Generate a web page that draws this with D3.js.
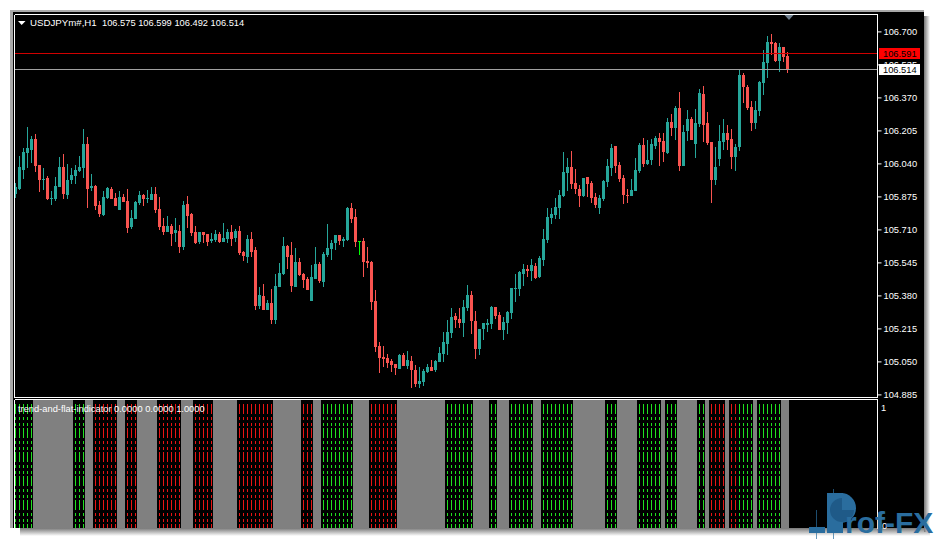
<!DOCTYPE html>
<html>
<head>
<meta charset="utf-8">
<script src="https://cdn.jsdelivr.net/npm/d3@7/dist/d3.min.js"></script>
<style>
html, body { margin: 0; padding: 0; background: #fff; overflow: hidden; }
text { font-family: "Liberation Sans", sans-serif; font-size: 9.3px; fill: #fff; }
</style>
</head>
<body>
<svg id="chart" width="936" height="539"></svg>
<script>
const opens = [105.887,105.912,106.007,106.092,106.107,106.162,106.032,105.957,105.967,105.862,
105.862,105.922,106.022,105.882,105.957,105.977,106.002,106.017,106.137,105.917,
105.927,105.832,105.782,105.867,105.912,105.867,105.807,105.872,105.852,105.722,
105.762,105.842,105.882,105.862,105.857,105.887,105.812,105.727,105.697,105.727,
105.692,105.702,105.622,105.837,105.787,105.697,105.647,105.697,105.687,105.652,
105.657,105.687,105.647,105.662,105.697,105.667,105.702,105.597,105.572,105.662,
105.607,105.327,105.377,105.307,105.342,105.257,105.422,105.487,105.627,105.582,
105.422,105.547,105.487,105.462,105.352,105.462,105.537,105.447,105.582,105.612,
105.642,105.682,105.652,105.657,105.817,105.772,105.652,105.652,105.552,105.547,
105.352,105.127,105.072,105.067,105.052,105.037,105.012,105.082,105.027,105.052,
105.007,104.937,104.947,104.997,105.022,105.007,105.047,105.087,105.137,105.192,
105.277,105.262,105.242,105.317,105.382,105.252,105.112,105.212,105.232,105.237,
105.322,105.282,105.207,105.242,105.292,105.412,105.412,105.487,105.512,105.502,
105.527,105.472,105.557,105.657,105.767,105.782,105.817,105.877,105.992,106.022,
105.942,105.912,105.877,105.972,105.942,105.872,105.817,105.862,105.947,106.017,
106.127,106.032,105.967,105.882,105.877,105.902,106.002,106.132,106.037,106.057,
106.127,106.167,106.152,106.092,106.247,106.217,106.317,106.027,106.202,106.262,
106.137,106.237,106.387,106.242,106.147,105.957,106.062,106.147,106.192,106.162,
106.072,106.122,106.482,106.422,106.322,106.242,106.302,106.442,106.542,106.647,
106.642,106.552,106.622,106.575];

const highs = [105.942,106.077,106.117,106.222,106.177,106.187,106.032,106.017,105.977,105.902,
105.972,106.072,106.087,106.037,106.017,106.032,106.077,106.212,106.172,105.987,
105.932,105.852,105.902,105.922,105.922,105.892,105.902,105.887,105.912,105.807,
105.852,105.902,105.887,105.907,105.922,105.922,105.872,105.767,105.777,105.737,
105.767,105.732,105.852,105.877,105.792,105.727,105.697,105.697,105.687,105.692,
105.707,105.697,105.742,105.712,105.732,105.712,105.727,105.602,105.682,105.697,
105.622,105.422,105.437,105.357,105.412,105.487,105.542,105.672,105.632,105.647,
105.617,105.567,105.492,105.472,105.532,105.622,105.547,105.597,105.737,105.657,
105.682,105.682,105.672,105.822,105.842,105.812,105.652,105.667,105.622,105.552,
105.407,105.147,105.127,105.087,105.062,105.037,105.087,105.092,105.102,105.077,
105.032,105.022,105.012,105.037,105.057,105.057,105.122,105.197,105.257,105.317,
105.292,105.317,105.357,105.432,105.402,105.302,105.212,105.242,105.262,105.327,
105.322,105.297,105.272,105.302,105.417,105.487,105.502,105.537,105.532,105.562,
105.542,105.577,105.712,105.817,105.817,105.867,105.907,106.097,106.067,106.102,
106.012,105.932,105.967,105.972,105.952,105.892,105.882,105.957,106.062,106.137,
106.127,106.047,105.982,105.912,105.962,106.067,106.142,106.167,106.157,106.162,
106.177,106.192,106.192,106.267,106.287,106.327,106.397,106.232,106.307,106.272,
106.312,106.412,106.427,106.297,106.147,106.122,106.232,106.262,106.232,106.212,
106.137,106.507,106.492,106.432,106.352,106.352,106.452,106.607,106.677,106.687,
106.647,106.642,106.622,106.599];

const lows = [105.867,105.907,105.962,106.017,106.042,105.997,105.897,105.907,105.857,105.832,
105.852,105.922,105.862,105.862,105.937,105.937,105.997,105.967,105.817,105.902,
105.807,105.772,105.777,105.862,105.862,105.827,105.807,105.847,105.692,105.712,
105.762,105.832,105.827,105.842,105.857,105.792,105.707,105.682,105.697,105.627,
105.647,105.592,105.607,105.717,105.677,105.637,105.637,105.642,105.627,105.642,
105.647,105.642,105.647,105.642,105.627,105.647,105.582,105.552,105.542,105.572,
105.307,105.312,105.307,105.307,105.237,105.237,105.422,105.482,105.512,105.397,
105.422,105.477,105.417,105.407,105.352,105.462,105.442,105.422,105.572,105.557,
105.607,105.632,105.622,105.652,105.742,105.622,105.582,105.472,105.517,105.307,
105.097,104.992,105.022,105.017,104.997,104.982,105.012,105.027,105.012,104.917,
104.922,104.917,104.927,104.992,105.002,104.997,105.047,105.047,105.082,105.167,
105.217,105.217,105.172,105.302,105.187,105.062,105.082,105.157,105.197,105.212,
105.262,105.207,105.157,105.187,105.262,105.347,105.377,105.427,105.472,105.452,
105.462,105.467,105.527,105.642,105.737,105.762,105.762,105.872,105.902,105.912,
105.887,105.822,105.872,105.872,105.842,105.817,105.787,105.852,105.922,105.977,
105.992,105.947,105.837,105.842,105.877,105.902,105.992,106.022,106.032,106.032,
106.112,106.027,106.047,106.087,106.177,106.157,106.002,106.027,106.152,106.157,
106.067,106.222,106.147,106.132,105.842,105.932,106.027,106.107,106.107,106.012,
106.002,106.102,106.342,106.307,106.202,106.212,106.277,106.382,106.467,106.582,
106.547,106.497,106.547,106.492];

const closes = [105.922,106.022,106.097,106.117,106.162,106.027,105.957,105.962,105.862,105.867,
105.927,106.022,105.887,105.957,105.982,106.007,106.022,106.137,105.912,105.927,
105.827,105.787,105.872,105.917,105.862,105.827,105.872,105.847,105.717,105.767,
105.847,105.882,105.862,105.867,105.887,105.807,105.722,105.697,105.727,105.687,
105.707,105.622,105.832,105.777,105.692,105.642,105.697,105.682,105.647,105.662,
105.687,105.647,105.667,105.697,105.662,105.702,105.592,105.577,105.662,105.597,
105.327,105.382,105.307,105.342,105.257,105.427,105.492,105.627,105.572,105.427,
105.547,105.482,105.457,105.407,105.472,105.537,105.452,105.587,105.617,105.642,
105.682,105.652,105.662,105.817,105.762,105.647,105.652,105.547,105.542,105.347,
105.122,105.067,105.062,105.042,105.032,105.017,105.082,105.027,105.057,105.007,
104.937,104.952,105.002,105.022,105.002,105.052,105.092,105.147,105.197,105.272,
105.257,105.242,105.322,105.382,105.252,105.112,105.212,105.242,105.242,105.322,
105.277,105.207,105.247,105.297,105.417,105.417,105.497,105.512,105.502,105.532,
105.467,105.567,105.662,105.772,105.787,105.822,105.882,105.997,106.022,105.937,
105.912,105.877,105.967,105.937,105.867,105.832,105.867,105.952,106.027,106.117,
106.027,105.962,105.882,105.877,105.907,106.007,106.132,106.037,106.057,106.137,
106.167,106.147,106.097,106.247,106.217,106.317,106.027,106.197,106.262,106.157,
106.242,106.392,106.232,106.142,105.957,106.022,106.152,106.192,106.157,106.072,
106.122,106.482,106.422,106.317,106.242,106.307,106.447,106.547,106.647,106.637,
106.552,106.622,106.572,106.514];

const priceTicks = [106.700,106.535,106.370,106.205,106.040,105.875,105.710,105.545,105.380,105.215,105.050,104.885];
const bidPrice = 106.514;
const askPrice = 106.591;

// indicator state per run of bars: 1 up, -1 down, 0 flat
const trendStates = [1,0,1,0,-1,0,-1,0,-1,0,-1,0,-1,0,-1,0,1,0,-1,0,1,0,1,0,1,0,1,0,1,0,1,0,1,0,1,0,-1,0,-1,1,0,1,0];
const trendLengths = [5,10,3,2,6,2,3,5,6,3,5,6,9,7,3,2,8,4,7,12,7,4,2,3,6,2,8,8,3,5,6,1,3,5,2,1,4,1,2,4,1,6,2];

const main = { left: 14, right: 877, top: 14, bottom: 397 };
const sub = { top: 399, bottom: 528 };

const upColor = "#26a69a";
const downColor = "#f95450";
const logoColor = "#2a6d9e";

const svg = d3.select("#chart");

const defs = svg.append("defs");
const shadowB = defs.append("linearGradient").attr("id", "shadowB").attr("x1", 0).attr("x2", 0).attr("y1", 0).attr("y2", 1);
shadowB.append("stop").attr("offset", 0).attr("stop-color", "#777");
shadowB.append("stop").attr("offset", 1).attr("stop-color", "#fff");
const shadowR = defs.append("linearGradient").attr("id", "shadowR");
shadowR.append("stop").attr("offset", 0).attr("stop-color", "#777");
shadowR.append("stop").attr("offset", 1).attr("stop-color", "#fff");

// window frame and drop shadow
svg.append("rect").attr("x", 20).attr("y", 528).attr("width", 910).attr("height", 8).attr("fill", "url(#shadowB)");
svg.append("rect").attr("x", 924).attr("y", 16).attr("width", 6).attr("height", 516).attr("fill", "url(#shadowR)");
svg.append("rect").attr("x", 10).attr("y", 10).attr("width", 914).attr("height", 518).attr("fill", "#a8a8a8");
svg.append("rect").attr("x", 13).attr("y", 12).attr("width", 911).attr("height", 516).attr("fill", "#000");

const data = opens.map((o, i) => ({ i, open: o, high: highs[i], low: lows[i], close: closes[i] }));

const x = d3.scaleLinear().domain([0, 193]).range([15.5, 787.5]);
const y = d3.scaleLinear().domain([106.857, 104.857]).range([0, 400]);
const ySub = d3.scaleLinear().domain([0, 1]).range([sub.bottom, sub.top + 1]);

// indicator panel
const states = [];
trendStates.forEach((s, k) => { for (let n = 0; n < trendLengths[k]; n++) states.push(s); });
const stateRows = states.map((s, i) => ({ s, i }));

const gSub = svg.append("g");
gSub.selectAll("rect").data(stateRows.filter(d => d.s === 0)).enter().append("rect")
    .attr("x", d => x(d.i) - 2.5)
    .attr("y", ySub(1))
    .attr("width", 4)
    .attr("height", ySub(0) - ySub(1))
    .attr("fill", "#808080")
    .attr("shape-rendering", "crispEdges");
gSub.selectAll("line").data(stateRows.filter(d => d.s !== 0)).enter().append("line")
    .attr("x1", d => x(d.i))
    .attr("x2", d => x(d.i))
    .attr("y1", ySub(1) + 4)
    .attr("y2", ySub(0))
    .attr("stroke", d => d.s > 0 ? "#1fe01f" : "#e81414")
    .attr("stroke-dasharray", "10,3,3,3,3,2")
    .attr("shape-rendering", "crispEdges");

// candles
const candles = svg.append("g").selectAll("g").data(data).enter().append("g");
candles.append("line")
    .attr("x1", d => x(d.i))
    .attr("x2", d => x(d.i))
    .attr("y1", d => y(d.high))
    .attr("y2", d => y(d.low))
    .attr("stroke", d => d.close > d.open ? upColor : d.close < d.open ? downColor : "#00ff00")
    .attr("shape-rendering", "crispEdges");
candles.filter(d => d.close !== d.open).append("rect")
    .attr("x", d => x(d.i) - 1.5)
    .attr("width", 3)
    .attr("y", d => y(Math.max(d.open, d.close)))
    .attr("height", d => Math.abs(y(d.open) - y(d.close)))
    .attr("fill", d => d.close > d.open ? upColor : downColor)
    .attr("shape-rendering", "crispEdges");
candles.filter(d => d.close === d.open).append("line")
    .attr("x1", d => x(d.i) - 1.5)
    .attr("x2", d => x(d.i) + 1.5)
    .attr("y1", d => y(d.open) + 0.5)
    .attr("y2", d => y(d.open) + 0.5)
    .attr("stroke", "#00ff00")
    .attr("shape-rendering", "crispEdges");

// bid and ask lines
svg.append("line").attr("x1", main.left).attr("x2", main.right)
    .attr("y1", Math.round(y(askPrice)) + 0.5).attr("y2", Math.round(y(askPrice)) + 0.5)
    .attr("stroke", "#d00000").attr("shape-rendering", "crispEdges");
svg.append("line").attr("x1", main.left).attr("x2", main.right)
    .attr("y1", Math.round(y(bidPrice)) + 0.5).attr("y2", Math.round(y(bidPrice)) + 0.5)
    .attr("stroke", "#a0a0a0").attr("shape-rendering", "crispEdges");

// price axis
const axis = svg.append("g")
    .attr("transform", `translate(${main.right + 0.5},0)`)
    .call(d3.axisRight(y).tickValues(priceTicks).tickFormat(d3.format(".3f")).tickSize(4).tickPadding(2));
axis.select(".domain").remove();
axis.selectAll("line").attr("stroke", "#fff");
axis.selectAll("text").style("fill", "#fff").style("font-size", "9.3px").style("font-family", "'Liberation Sans', sans-serif");

const tags = [
    { price: askPrice, bg: "#ff0000" },
    { price: bidPrice, bg: "#ffffff" }
];
tags.forEach(t => {
    const py = Math.round(y(t.price));
    svg.append("rect").attr("x", 879).attr("y", py - 5).attr("width", 41).attr("height", 11).attr("fill", t.bg);
    svg.append("text").attr("x", 883).attr("y", py + 4).style("fill", "#000").text(d3.format(".3f")(t.price));
});

// chart borders
const borders = [
    [main.left, main.top, main.right, main.top],
    [main.left, main.top, main.left, main.bottom],
    [main.right, main.top, main.right, main.bottom],
    [main.left, main.bottom, main.right, main.bottom],
    [main.left, sub.top, main.right, sub.top],
    [main.left, sub.top, main.left, sub.bottom],
    [main.right, sub.top, main.right, sub.bottom]
];
svg.append("g").selectAll("line").data(borders).enter().append("line")
    .attr("x1", d => d[0] + 0.5).attr("y1", d => d[1] + 0.5)
    .attr("x2", d => d[2] + 0.5).attr("y2", d => d[3] + 0.5)
    .attr("stroke", "#fff").attr("shape-rendering", "crispEdges");

// header and shift marker
svg.append("path").attr("d", "M18,21L25.5,21L21.7,25Z").attr("fill", "#fff");
svg.append("text").attr("x", 30).attr("y", 26).style("font-size", "9.7px").text("USDJPYm#,H1");
svg.append("text").attr("x", 102).attr("y", 26).text("106.575 106.599 106.492 106.514");
svg.append("path").attr("d", `M${x(193) - 3},15L${x(193) + 6},15L${x(193) + 1.5},20Z`).attr("fill", "#708090");

// indicator labels
svg.append("text").attr("x", 18).attr("y", 412).text("trend-and-flat-indicator 0.0000 0.0000 1.0000");
svg.append("text").attr("x", 881).attr("y", 411).text("1");
svg.append("text").attr("x", 882).attr("y", 529).text("0");

// watermark
const logo = svg.append("g").attr("fill", logoColor);
logo.append("rect").attr("x", 809).attr("y", 527).attr("width", 16).attr("height", 6);
logo.append("rect").attr("x", 816).attr("y", 510).attr("width", 1).attr("height", 29).attr("opacity", 0.7);
logo.append("rect").attr("x", 833).attr("y", 489).attr("width", 1).attr("height", 50).attr("opacity", 0.7);
logo.append("path")
    .attr("transform", "translate(841,508)")
    .attr("d", d3.arc()({ innerRadius: 0, outerRadius: 15, startAngle: 0, endAngle: Math.PI }));
logo.append("rect").attr("x", 827).attr("y", 493).attr("width", 16).attr("height", 40);
logo.append("path")
    .attr("transform", "translate(842,510)")
    .attr("d", d3.arc()({ innerRadius: 0, outerRadius: 12, startAngle: Math.PI / 2, endAngle: 2 * Math.PI }))
    .attr("fill", "#1f5a88");
logo.append("text").attr("x", 845).attr("y", 533)
    .style("fill", logoColor).style("font-size", "30px").style("font-weight", "bold")
    .text("rof-FX");
</script>
</body>
</html>
